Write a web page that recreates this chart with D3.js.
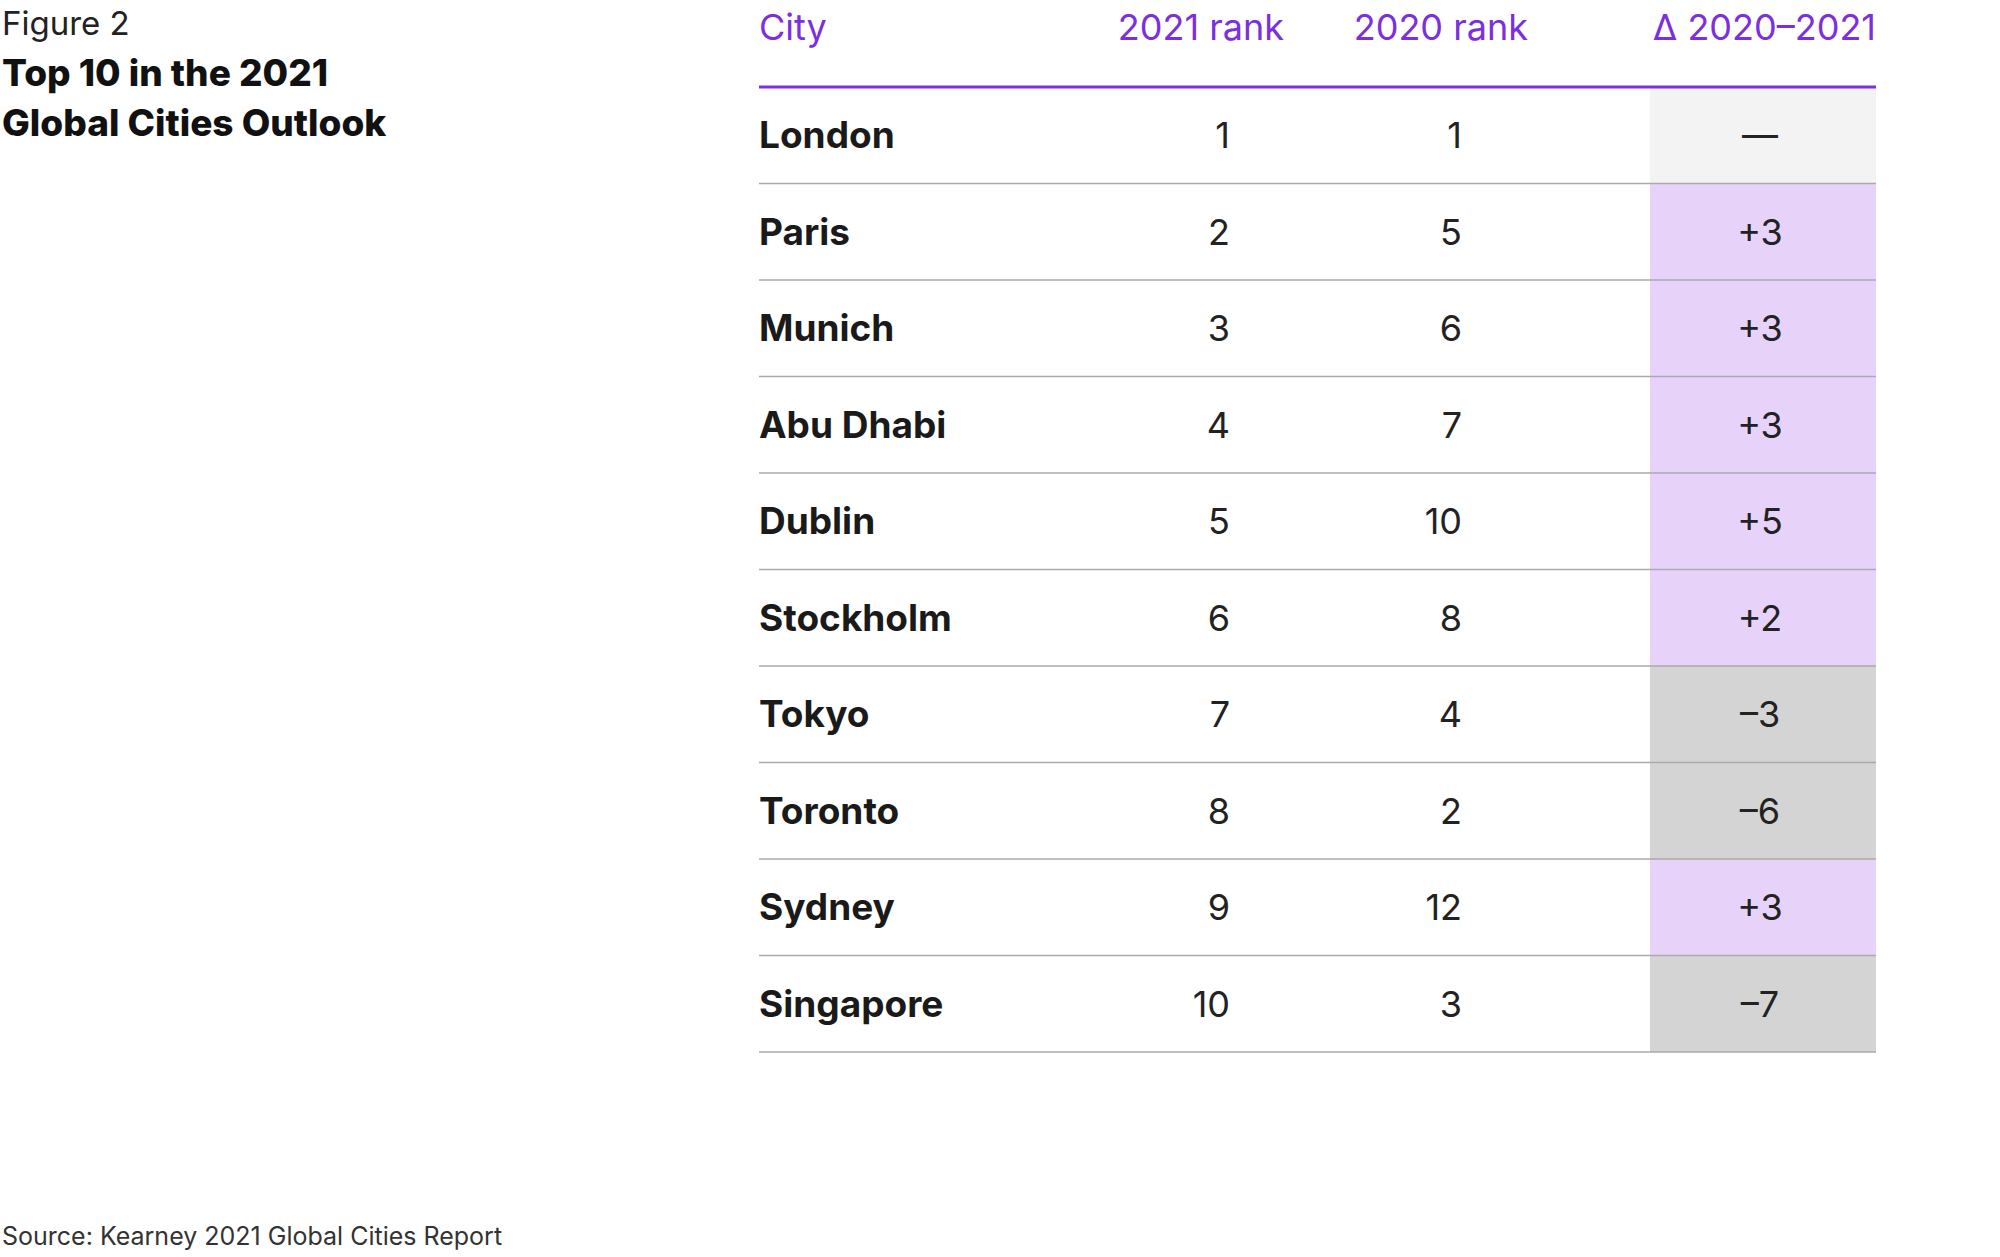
<!DOCTYPE html>
<html><head><meta charset="utf-8">
<script src="https://cdn.jsdelivr.net/npm/d3@7"></script>
<style>body{margin:0;background:#fff}svg{font-family:Inter,"Noto Sans",sans-serif}</style>
</head><body>
<script>
var cities = ["London","Paris","Munich","Abu Dhabi","Dublin","Stockholm","Tokyo","Toronto","Sydney","Singapore"];
var rank2021 = [1,2,3,4,5,6,7,8,9,10];
var rank2020 = [1,5,6,7,10,8,4,2,12,3];
var deltaLabels = ["\u2014","+3","+3","+3","+5","+2","\u20133","\u20136","+3","\u20137"];
var headers = ["City","2021 rank","2020 rank","\u0394 2020\u20132021"];

var W = 2000, H = 1257;
var svg = d3.select("body").append("svg").attr("width", W).attr("height", H);
var purple = "#7b2fe0";

var y = d3.scaleBand().domain(cities).range([87, 1052]);
var left = 759, right = 1876, dLeft = 1650;

// titles
svg.append("text").attr("x", 2).attr("y", 35).attr("font-size", 33).attr("fill", "#222").text("Figure 2");
svg.append("text").attr("x", 2).attr("y", 86).attr("font-size", 37).attr("font-weight", 800).attr("fill", "#111").text("Top 10 in the 2021");
svg.append("text").attr("x", 2).attr("y", 136).attr("font-size", 37).attr("font-weight", 800).attr("fill", "#111").text("Global Cities Outlook");
svg.append("text").attr("x", 2).attr("y", 1245).attr("font-size", 25).attr("fill", "#333").text("Source: Kearney 2021 Global Cities Report");

// header
var hx = [left, 1284, 1528, right];
var ha = ["start", "end", "end", "end"];
svg.selectAll("text.h").data(headers).enter().append("text").attr("class", "h")
  .attr("x", function (d, i) { return hx[i]; }).attr("y", 40)
  .attr("text-anchor", function (d, i) { return ha[i]; })
  .attr("font-size", 36).attr("fill", purple).text(function (d) { return d; });

// delta cells
svg.selectAll("rect.d").data(cities).enter().append("rect").attr("class", "d")
  .attr("x", dLeft).attr("y", function (d) { return y(d); })
  .attr("width", right - dLeft).attr("height", y.bandwidth())
  .attr("fill", function (d, i) {
    var v = deltaLabels[i];
    return v[0] === "+" ? "#e7d3fa" : (v === "\u2014" ? "#f3f3f3" : "#d4d4d4");
  });

// row lines
svg.selectAll("line.r").data(cities).enter().append("line").attr("class", "r")
  .attr("x1", left).attr("x2", right)
  .attr("y1", function (d) { return y(d) + y.bandwidth(); })
  .attr("y2", function (d) { return y(d) + y.bandwidth(); })
  .attr("stroke", "#aaa").attr("stroke-width", 1.5);
svg.append("line").attr("x1", left).attr("x2", right).attr("y1", 87).attr("y2", 87)
  .attr("stroke", purple).attr("stroke-width", 3);

var rows = svg.selectAll("g.row").data(cities).enter().append("g")
  .attr("transform", function (d) { return "translate(0," + (y(d) + y.bandwidth() / 2 + 13) + ")"; });
rows.append("text").attr("x", left).attr("font-size", 37).attr("font-weight", 700).attr("fill", "#1a1a1a")
  .text(function (d) { return d; });
rows.append("text").attr("x", 1230).attr("text-anchor", "end").attr("font-size", 36).attr("fill", "#222")
  .text(function (d, i) { return rank2021[i]; });
rows.append("text").attr("x", 1462).attr("text-anchor", "end").attr("font-size", 36).attr("fill", "#222")
  .text(function (d, i) { return rank2020[i]; });
rows.append("text").attr("x", (dLeft + right) / 2 - 3).attr("text-anchor", "middle").attr("font-size", 36).attr("fill", "#222")
  .text(function (d, i) { return deltaLabels[i]; });
</script>
</body></html>
